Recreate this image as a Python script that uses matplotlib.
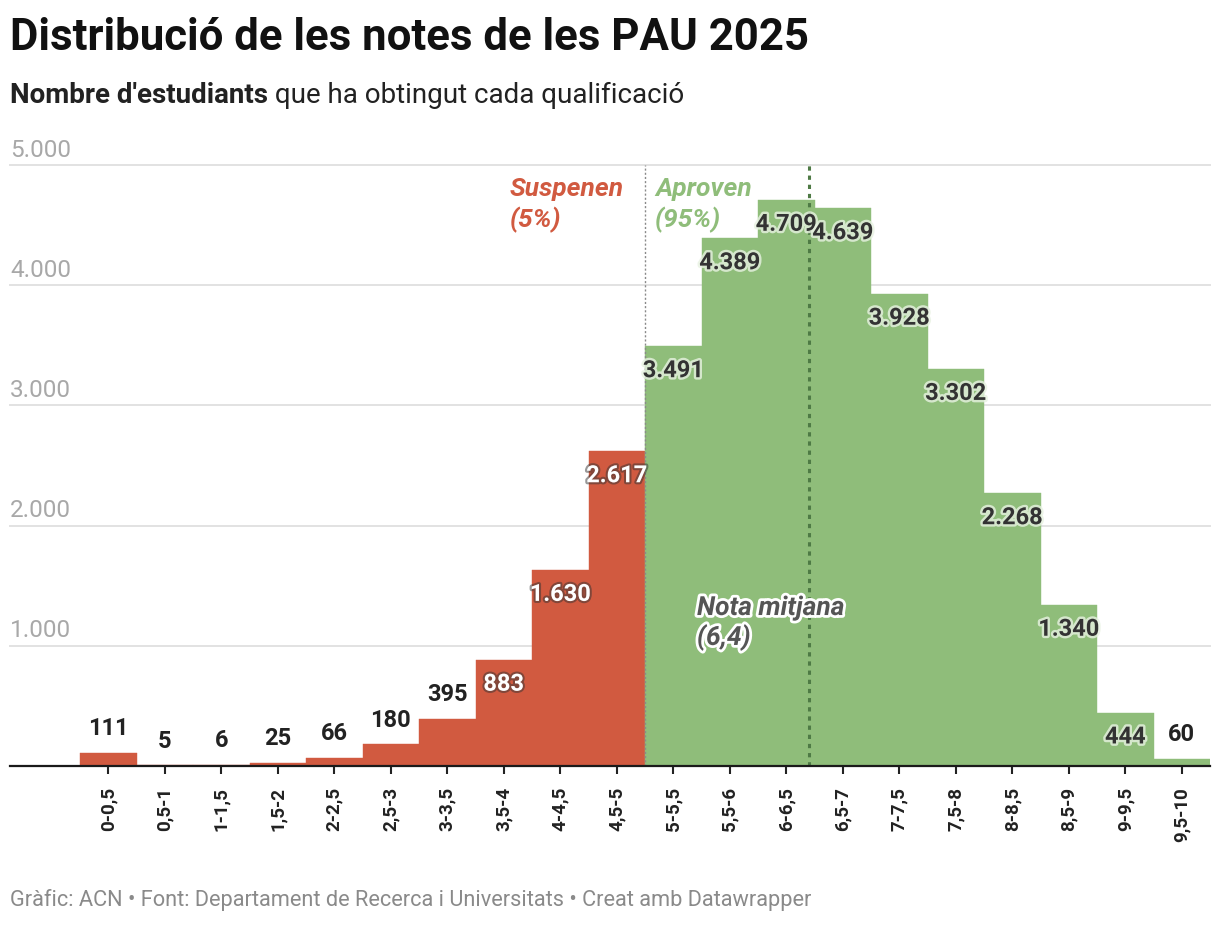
import matplotlib.pyplot as plt
import matplotlib.patheffects as pe

plt.rcParams['font.family'] = ['Roboto', 'DejaVu Sans']

# data
grade_bins = ["0-0,5", "0,5-1", "1-1,5", "1,5-2", "2-2,5", "2,5-3", "3-3,5", "3,5-4",
              "4-4,5", "4,5-5", "5-5,5", "5,5-6", "6-6,5", "6,5-7", "7-7,5", "7,5-8",
              "8-8,5", "8,5-9", "9-9,5", "9,5-10"]
students = [111, 5, 6, 25, 66, 180, 395, 883, 1630, 2617,
            3491, 4389, 4709, 4639, 3928, 3302, 2268, 1340, 444, 60]
y_ticks = [1000, 2000, 3000, 4000, 5000]
pass_mark = 5.0
mean_grade = 6.4
pct_fail = 5
pct_pass = 95

RED = '#d15a40'
GREEN = '#8fbd7a'
DARK_GREEN = '#4e7a45'

W, H = 1220, 926


def fmt(v):
    return f"{v:,}".replace(",", ".")


fig = plt.figure(figsize=(W / 100, H / 100), dpi=100)
fig.patch.set_facecolor('white')
ax = fig.add_axes([10 / W, (H - 766) / H, 1200 / W, 601 / H])

n = len(students)
xs = list(range(n))
pass_x = pass_mark / 0.5 - 0.5          # boundary between 4,5-5 and 5-5,5
mean_x = mean_grade / 0.5 - 0.4          # where the chart draws the mean line
colors = [RED if x < pass_x else GREEN for x in xs]

ax.bar(xs, students, width=1.0, color=colors, edgecolor=colors, linewidth=0.3, zorder=2)

ax.set_xlim(-1.739, n - 0.5)
ax.set_ylim(0, 5000)
for s in ax.spines.values():
    s.set_visible(False)

# grid + y labels
for t in y_ticks:
    ax.axhline(t, color='#e2e2e2', lw=1.4, zorder=0, clip_on=False)
    ax.annotate(fmt(t), xy=(0, t), xycoords=('axes fraction', 'data'),
                xytext=(0, 6), textcoords='offset points',
                ha='left', va='baseline', fontsize=17.5, color='#a8a8a8')
ax.axhline(0, color='#1a1a1a', lw=1.6, zorder=4, clip_on=False)
ax.set_yticks([])

ax.set_xticks(xs)
ax.set_xticklabels(grade_bins, rotation=90, fontsize=13.5, fontweight='bold', color='#222222')
ax.tick_params(axis='x', length=6, width=1.5, color='#222222', pad=9)

# reference lines
ax.plot([pass_x, pass_x], [0, 5000], color='#8a8a8a', lw=1, ls=(0, (1.5, 1.5)), zorder=3)
ax.plot([mean_x, mean_x], [0, 5000], color=DARK_GREEN, lw=2.2, ls=(0, (1.4, 1.6)), zorder=3)

# value labels
for x, v in zip(xs, students):
    if v > 420:
        if x < pass_x:
            tc, halo = 'white', [pe.withStroke(linewidth=3, foreground='#333333', alpha=0.5)]
        else:
            tc, halo = '#333333', [pe.withStroke(linewidth=3.5, foreground='#e8f2e2', alpha=0.8)]
        ax.annotate(fmt(v), xy=(x, v), xytext=(0, -17.5), textcoords='offset points',
                    ha='center', va='center', fontsize=17, fontweight='bold',
                    color=tc, path_effects=halo, zorder=5)
    else:
        ax.annotate(fmt(v), xy=(x, v), xytext=(0, 17.5), textcoords='offset points',
                    ha='center', va='center', fontsize=17, fontweight='bold',
                    color='#222222', zorder=5)

# annotations
ann = dict(fontsize=19, fontweight='bold', style='italic', ha='left', va='baseline')
ax.text(7.11, 4742, "Suspenen", color=RED, **ann)
ax.text(7.11, 4484, f"({pct_fail}%)", color=RED, **ann)
ax.text(pass_x + 0.18, 4742, "Aproven", color=GREEN, **ann)
ax.text(pass_x + 0.18, 4484, f"({pct_pass}%)", color=GREEN, **ann)
mean_txt = "(" + f"{mean_grade}".replace(".", ",") + ")"
white_halo = [pe.withStroke(linewidth=4, foreground='white')]
ax.text(10.42, 1256, "Nota mitjana", color='#555555', path_effects=white_halo, zorder=6, **ann)
ax.text(10.42, 1007, mean_txt, color='#555555', path_effects=white_halo, zorder=6, **ann)

# header / footer
fig.text(10 / W, 1 - 50 / H, "Distribució de les notes de les PAU 2025",
         fontsize=31.5, fontweight='bold', color='#111111', va='baseline', ha='left')
sub_b = fig.text(10 / W, 1 - 109 / H, "Nombre d'estudiants", fontsize=20,
                 fontweight='bold', color='#222222', va='bottom', ha='left')
ax.annotate(" que ha obtingut cada qualificació", xy=(1, 0), xycoords=sub_b,
            fontsize=20, color='#222222', va='bottom', ha='left',
            annotation_clip=False)
fig.text(10 / W, 1 - 906 / H,
         "Gràfic: ACN • Font: Departament de Recerca i Universitats • Creat amb Datawrapper",
         fontsize=15.7, color='#8a8a8a', va='baseline', ha='left')

fig.savefig('out.png', dpi=100, facecolor='white')
